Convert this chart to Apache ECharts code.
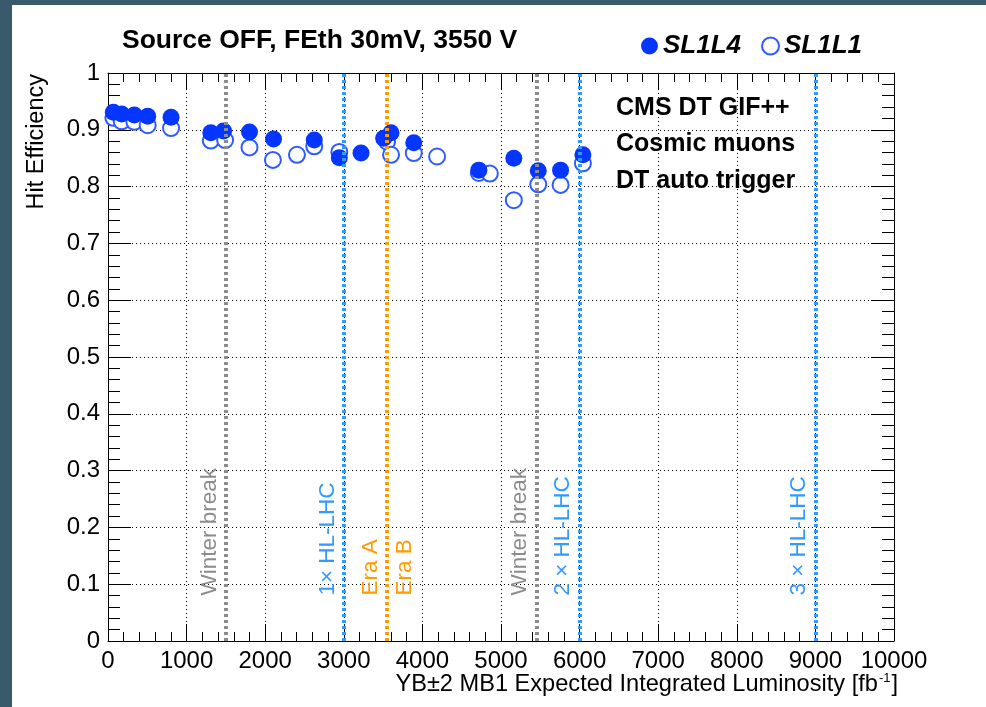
<!DOCTYPE html>
<html>
<head>
<meta charset="utf-8">
<script src="https://cdn.jsdelivr.net/npm/echarts/dist/echarts.min.js"></script>
<style>
  html, body { margin: 0; padding: 0; background: #ffffff; }
  #chart { width: 986px; height: 707px; }
</style>
</head>
<body>
<div id="chart"></div>
<script>
// Hit efficiency vs expected integrated luminosity (fb^-1)
const lumiSL1L4 = [68, 174, 335, 505, 802, 1308, 1470, 1800, 2106, 2624, 2943, 3219, 3507, 3601, 3890, 4718, 5163, 5474, 5758, 6042];
const effSL1L4  = [0.931, 0.928, 0.926, 0.924, 0.922, 0.895, 0.898, 0.896, 0.884, 0.882, 0.851, 0.859, 0.885, 0.895, 0.877, 0.829, 0.850, 0.828, 0.829, 0.856];

const lumiSL1L1 = [68, 174, 335, 505, 802, 1308, 1490, 1800, 2098, 2404, 2624, 2943, 3550, 3601, 3890, 4187, 4718, 4858, 5163, 5474, 5758, 6042];
const effSL1L1  = [0.921, 0.915, 0.914, 0.908, 0.903, 0.881, 0.882, 0.869, 0.847, 0.856, 0.871, 0.861, 0.879, 0.856, 0.859, 0.853, 0.824, 0.823, 0.776, 0.804, 0.803, 0.841];

// Reference lines (luminosity) and their colours
const refLineX     = [1500, 3000, 3550, 5450, 6000, 9000];
const refLineColor = ['#8c8c8c', '#3399ff', '#ff9a00', '#8c8c8c', '#3399ff', '#3399ff'];

// Rotated annotations next to the reference lines
const noteX     = [1500, 3000, 3550, 3550, 5450, 6000, 9000];
const noteText  = ['Winter break', '1\u00d7 HL-LHC', 'Era A', 'Era B', 'Winter break', '2 \u00d7 HL-LHC', '3 \u00d7 HL-LHC'];
const noteColor = ['#8c8c8c', '#3399ff', '#ff9a00', '#ff9a00', '#8c8c8c', '#3399ff', '#3399ff'];
const noteSide  = ['left', 'left', 'left', 'right', 'left', 'left', 'left'];

const xTicks = [0, 1000, 2000, 3000, 4000, 5000, 6000, 7000, 8000, 9000, 10000];
const yTicks = [0, 0.1, 0.2, 0.3, 0.4, 0.5, 0.6, 0.7, 0.8, 0.9, 1];

const infoLines = ['CMS DT GIF++', 'Cosmic muons', 'DT auto trigger'];

const FONT = "'Liberation Sans', Arial, Helvetica, sans-serif";
const BLUE = '#0536ff';

const pairs = (xs, ys) => xs.map((x, i) => [x, ys[i]]);

const chart = echarts.init(document.getElementById('chart'), null, { renderer: 'canvas' });

const dotted = { color: '#000', width: 1, type: [1, 3] };

const baseX = {
  type: 'value', min: xTicks[0], max: xTicks[xTicks.length - 1], interval: 1000,
  axisLine: { show: true, onZero: false, lineStyle: { color: '#000', width: 1 } },
  axisTick: { show: true, inside: true, length: 17, lineStyle: { color: '#000', width: 1 } },
  minorTick: { show: true, splitNumber: 5, length: 9, lineStyle: { color: '#000', width: 1 } }
};
const baseY = {
  type: 'value', min: yTicks[0], max: yTicks[yTicks.length - 1], interval: 0.1,
  axisLine: { show: true, onZero: false, lineStyle: { color: '#000', width: 1 } },
  axisTick: { show: true, inside: true, length: 23, lineStyle: { color: '#000', width: 1 } },
  minorTick: { show: true, splitNumber: 5, length: 12, lineStyle: { color: '#000', width: 1 } }
};

const option = {
  animation: false,
  backgroundColor: '#ffffff',
  textStyle: { fontFamily: FONT },
  grid: { left: 108, right: 92, top: 73, bottom: 66, containLabel: false, outerBoundsMode: 'none' },
  legend: {
    left: 636, top: 28,
    itemWidth: 17, itemHeight: 17, itemGap: 20,
    icon: 'circle',
    textStyle: { fontFamily: FONT, fontSize: 26, fontWeight: 'bold', fontStyle: 'italic', color: '#000', padding: [0, 0, 0, 0] },
    data: ['SL1L4', 'SL1L1']
  },
  xAxis: [
    Object.assign({}, baseX, {
      position: 'bottom',
      axisLabel: {
        show: true, color: '#000', fontSize: 24, fontFamily: FONT, margin: 8,
        formatter: v => String(v)
      },
      splitLine: { show: true, lineStyle: dotted }
    }),
    Object.assign({}, baseX, {
      position: 'top',
      axisLabel: { show: false },
      splitLine: { show: false }
    })
  ],
  yAxis: [
    Object.assign({}, baseY, {
      position: 'left',
      axisLabel: { show: true, color: '#000', fontSize: 24, fontFamily: FONT, margin: 8, formatter: v => String(Math.round(v * 10) / 10) },
      splitLine: { show: true, lineStyle: dotted }
    }),
    Object.assign({}, baseY, {
      position: 'right',
      axisLabel: { show: false },
      splitLine: { show: false }
    })
  ],
  series: [
    {
      name: 'SL1L4', type: 'scatter', xAxisIndex: 0, yAxisIndex: 0, z: 4,
      symbol: 'circle', symbolSize: 17,
      itemStyle: { color: BLUE, opacity: 1 },
      data: pairs(lumiSL1L4, effSL1L4)
    },
    {
      name: 'SL1L1', type: 'scatter', xAxisIndex: 0, yAxisIndex: 0, z: 3,
      symbol: 'circle', symbolSize: 16,
      itemStyle: { color: '#ffffff', borderColor: '#2f5bff', borderWidth: 2, opacity: 1 },
      data: pairs(lumiSL1L1, effSL1L1)
    },
    {
      name: 'refLines', type: 'line', xAxisIndex: 0, yAxisIndex: 0, z: 6,
      data: [], silent: true,
      markLine: {
        silent: true, symbol: ['none', 'none'], animation: false,
        label: { show: false },
        data: refLineX.map((x, i) => ({
          xAxis: x,
          lineStyle: { color: refLineColor[i], width: 4, type: [3, 3], opacity: 1 }
        }))
      }
    }
  ],
  graphic: []
};

chart.setOption(option);

// Place frame decorations, titles and the rotated line annotations
function buildGraphics() {
  const g = [];
  g.push({ type: 'rect', left: 0, top: 0, shape: { width: 12, height: 707 }, style: { fill: '#385a6a' }, z: 100 });
  g.push({ type: 'rect', left: 0, top: 0, shape: { width: 986, height: 5 }, style: { fill: '#385a6a' }, z: 100 });

  g.push({
    type: 'text', x: 122, y: 41, z: 50,
    style: { text: 'Source OFF, FEth 30mV, 3550 V', font: "bold 26.5px " + FONT, fill: '#000', align: 'left', verticalAlign: 'middle' }
  });

  infoLines.forEach((t, i) => {
    g.push({
      type: 'text', x: 616, y: 108 + i * 36.5, z: 50,
      style: { text: t, font: "bold 25px " + FONT, fill: '#000', align: 'left', verticalAlign: 'middle' }
    });
  });

  // y axis title, rotated, right-aligned to the top of the frame
  g.push({
    type: 'text', x: 37, y: 74, rotation: Math.PI / 2, z: 50,
    style: { text: 'Hit Efficiency', font: "23.5px " + FONT, fill: '#000', align: 'right', verticalAlign: 'middle' }
  });

  // x axis title, right-aligned to the end of the frame, with superscript
  const xEnd = chart.convertToPixel({ xAxisIndex: 0 }, xTicks[xTicks.length - 1]);
  g.push({
    type: 'text', x: xEnd + 4, y: 684, z: 50,
    style: {
      text: 'YB\u00b12 MB1 Expected Integrated Luminosity [fb{sup|-1}]',
      font: "23.6px " + FONT, fill: '#000', align: 'right', verticalAlign: 'middle',
      rich: { sup: { fontSize: 13, fontFamily: FONT, fill: '#000', padding: [0, 1, 12, 1] } }
    }
  });

  const yBase = chart.convertToPixel({ yAxisIndex: 0 }, 0.08);
  noteX.forEach((x, i) => {
    const px = chart.convertToPixel({ xAxisIndex: 0 }, x);
    const left = noteSide[i] === 'left';
    g.push({
      type: 'text', x: left ? px - 5 : px + 6, y: yBase, rotation: Math.PI / 2, z: 50,
      style: {
        text: noteText[i], font: "22.5px " + FONT, fill: noteColor[i],
        align: 'left', verticalAlign: left ? 'bottom' : 'top'
      }
    });
  });
  chart.setOption({ graphic: g });
}
buildGraphics();
</script>
</body>
</html>
